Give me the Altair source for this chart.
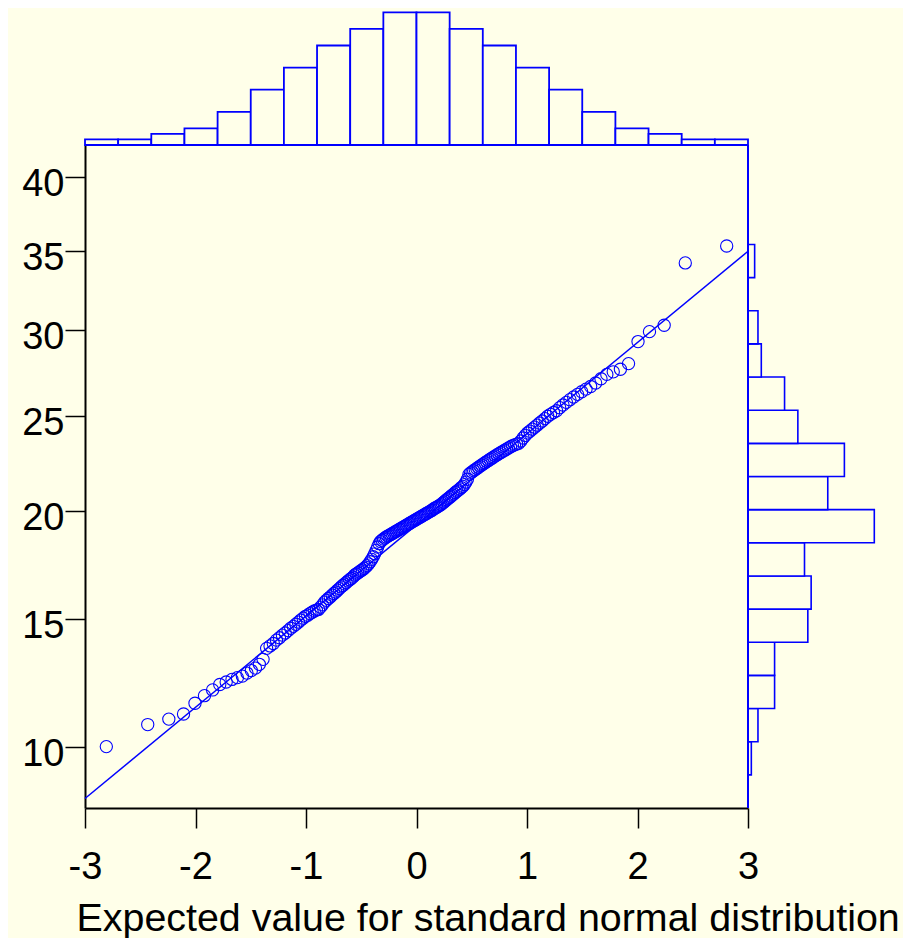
import math
import altair as alt
import pandas as pd

# ---------------- data ----------------
# observed values, sorted (200 observations); expected normal scores are
# computed from their ranks by Vega (quantileNormal((rank-0.5)/n))
observed = [
    10.00, 10.79, 10.99, 11.18, 11.58, 11.87, 12.09, 12.30, 12.40, 12.50,
    12.57, 12.63, 12.75, 12.85, 12.95, 13.10, 13.30, 13.75, 13.85, 13.95,
    14.09, 14.19, 14.30, 14.39, 14.49, 14.59, 14.67, 14.76, 14.85, 14.94,
    15.02, 15.10, 15.15, 15.22, 15.28, 15.33, 15.37, 15.40, 15.50, 15.60,
    15.72, 15.80, 15.88, 15.95, 16.03, 16.10, 16.17, 16.25, 16.32, 16.40,
    16.46, 16.53, 16.59, 16.66, 16.72, 16.78, 16.84, 16.93, 16.98, 17.03,
    17.08, 17.13, 17.18, 17.24, 17.30, 17.37, 17.45, 17.55, 17.66, 17.78,
    17.92, 18.08, 18.24, 18.40, 18.50, 18.56, 18.62, 18.67, 18.72, 18.76,
    18.80, 18.84, 18.88, 18.92, 18.96, 19.00, 19.04, 19.08, 19.12, 19.16,
    19.20, 19.24, 19.28, 19.32, 19.36, 19.40, 19.44, 19.48, 19.52, 19.56,
    19.60, 19.64, 19.68, 19.72, 19.76, 19.80, 19.84, 19.88, 19.92, 19.96,
    20.00, 20.04, 20.10, 20.14, 20.18, 20.22, 20.26, 20.31, 20.37, 20.43,
    20.49, 20.55, 20.61, 20.67, 20.73, 20.79, 20.85, 20.92, 20.98, 21.04,
    21.10, 21.17, 21.23, 21.32, 21.45, 21.60, 21.85, 21.92, 21.98, 22.04,
    22.10, 22.16, 22.22, 22.28, 22.34, 22.40, 22.46, 22.52, 22.58, 22.64,
    22.70, 22.76, 22.82, 22.88, 22.94, 23.00, 23.06, 23.12, 23.18, 23.24,
    23.30, 23.36, 23.41, 23.45, 23.49, 23.62, 23.78, 23.92, 24.05, 24.15,
    24.26, 24.37, 24.48, 24.60, 24.71, 24.84, 24.97, 25.08, 25.18, 25.28,
    25.45, 25.60, 25.75, 25.90, 26.05, 26.20, 26.35, 26.50, 26.65, 26.85,
    27.10, 27.35, 27.50, 27.65, 27.98, 29.29, 29.89, 30.28, 34.21, 35.32,
]

# reference line (end points at the x-axis limits)
fit_x = [-3, 3]
fit_y = [8.26, 34.97]

# top histogram: counts of the expected normal scores, 20 bins over [-3, 3]
top_counts = [1, 1, 2, 3, 6, 10, 14, 18, 21, 24, 24, 21, 18, 14, 10, 6, 3, 2, 1, 1]
# right histogram: counts of observed values, 20 bins (equal on the sqrt axis), bottom to top
right_counts = [0, 1, 3, 8, 8, 18, 19, 17, 38, 24, 29, 15, 11, 4, 3, 0, 2, 0, 0, 0]

x_ticks = [-3, -2, -1, 0, 1, 2, 3]
y_ticks = [10, 15, 20, 25, 30, 35, 40]
x_title = "Expected value for standard normal distribution"

# ---------------- layout / style ----------------
X_DOMAIN = [-3, 3]
Y_DOMAIN = [7.96, 42.3]
W, H = 663, 663
TOP_H = 132.7
RIGHT_W = 126.3
BLUE = "#0000FF"
BG = "#FFFFE9"
FONT = "Liberation Sans"

pts = pd.DataFrame({"value": observed})
line_df = pd.DataFrame({"x": fit_x, "y": fit_y})

nb = len(top_counts)
step = (X_DOMAIN[1] - X_DOMAIN[0]) / nb
top_df = pd.DataFrame({
    "start": [round(X_DOMAIN[0] + i * step, 6) for i in range(nb)],
    "end": [round(X_DOMAIN[0] + (i + 1) * step, 6) for i in range(nb)],
    "count": top_counts,
})

s0, s1 = math.sqrt(Y_DOMAIN[0]), math.sqrt(Y_DOMAIN[1])
nr = len(right_counts)
ds = (s1 - s0) / nr
right_df = pd.DataFrame({
    "lo": [(s0 + i * ds) ** 2 for i in range(nr)],
    "hi": [(s0 + (i + 1) * ds) ** 2 for i in range(nr)],
    "count": right_counts,
})
right_df = right_df[right_df["count"] > 0]
edge_df = pd.DataFrame({"ymin": [Y_DOMAIN[0]], "ymax": [Y_DOMAIN[1]], "zero": [0]})

xs = alt.Scale(domain=X_DOMAIN, nice=False, zero=False)
ys = alt.Scale(type="sqrt", domain=Y_DOMAIN, nice=False, zero=False)
top_scale = alt.Scale(domain=[0, max(top_counts)], range=[0, -TOP_H])
right_scale = alt.Scale(domain=[0, max(right_counts)], range=[W, W + RIGHT_W])

x_axis = alt.Axis(
    values=x_ticks, labelExpr="'' + datum.value", grid=False,
    domainColor="black", domainWidth=2, tickColor="black", tickWidth=1.5,
    tickSize=20, labelFontSize=38, labelFont=FONT, labelColor="black",
    labelBaseline="alphabetic", labelPadding=50, labelFlush=False,
    labelOverlap=False, title=x_title, titleFont=FONT, titleFontSize=39.4,
    titleFontWeight="normal", titleColor="black", titleAnchor="start",
    titleAlign="left", titleBaseline="alphabetic", titleX=-9, titleY=122,
)
y_axis = alt.Axis(
    values=y_ticks, grid=False, domainColor="black", domainWidth=2,
    tickColor="black", tickWidth=1.5, tickSize=20, labelFontSize=38,
    labelFont=FONT, labelColor="black", labelBaseline="alphabetic",
    labelOffset=18.5, labelPadding=1, labelFlush=False, labelOverlap=False,
    title=None,
)

top = alt.Chart(top_df).mark_rect(fill=BG, stroke=BLUE, strokeWidth=1.8).encode(
    x=alt.X("start:Q", scale=xs, axis=None),
    x2="end:Q",
    y=alt.Y("count:Q", scale=top_scale, axis=None),
    y2=alt.datum(0),
)

right = alt.Chart(right_df).mark_rect(fill=BG, stroke=BLUE, strokeWidth=1.6).encode(
    x=alt.X("count:Q", scale=right_scale, axis=None),
    x2=alt.datum(0),
    y=alt.Y("lo:Q", scale=ys, axis=None),
    y2="hi:Q",
)

right_edge = alt.Chart(edge_df).mark_rule(color=BLUE, strokeWidth=2).encode(
    x=alt.X("zero:Q", scale=right_scale, axis=None),
    y=alt.Y("ymin:Q", scale=ys, axis=None),
    y2="ymax:Q",
)

fit = alt.Chart(line_df).mark_line(color=BLUE, strokeWidth=1.5).encode(
    x=alt.X("x:Q", scale=xs, axis=None),
    y=alt.Y("y:Q", scale=ys, axis=None),
)

points = alt.Chart(pts).transform_window(
    rank="row_number()", sort=[alt.SortField("value", order="ascending")]
).transform_joinaggregate(
    n="count()"
).transform_calculate(
    expected="quantileNormal((datum.rank - 0.5) / datum.n)"
).mark_point(
    shape="circle", filled=False, color=BLUE, size=150, strokeWidth=1.1, opacity=1
).encode(
    x=alt.X("expected:Q", scale=xs, axis=x_axis),
    y=alt.Y("value:Q", scale=ys, axis=y_axis),
)

chart = alt.layer(top, right, right_edge, fit, points).resolve_scale(
    x="independent", y="independent"
).properties(
    width=W, height=H, background=BG,
    padding={"left": 13, "top": 3, "right": 3, "bottom": 0},
).configure_view(stroke="transparent")

chart.save("out.html", embed_options={"renderer": "svg", "actions": False})
